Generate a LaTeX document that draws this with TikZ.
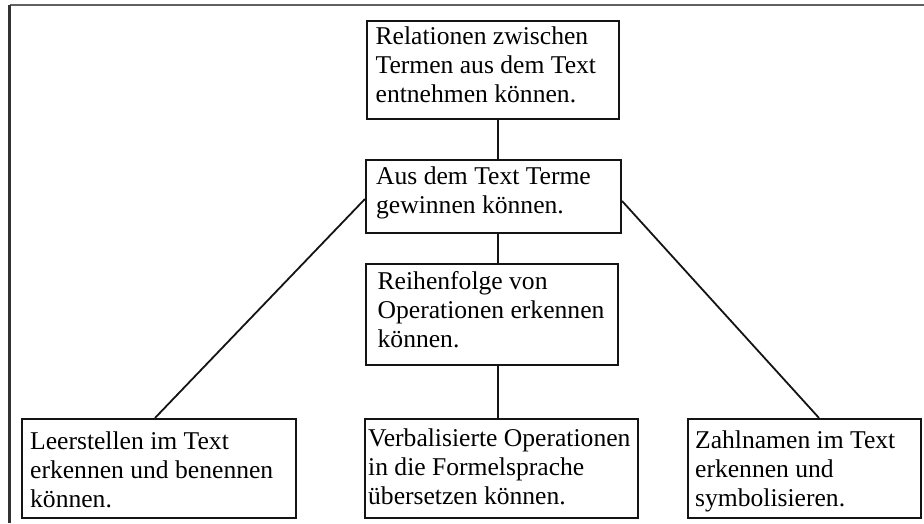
\documentclass[tikz,border=0pt]{standalone}
\usepackage{fontspec}
\setmainfont{Liberation Serif}
\begin{document}
\begin{tikzpicture}[x=1pt,y=-1pt,
  box/.style={draw=black!92,line width=2.1pt,inner sep=0pt,minimum width=#1},
  txt/.style={inner sep=0pt,anchor=north west,align=left,text=black,
    font={\fontsize{25.6}{28.8}\selectfont}},
  conn/.style={draw=black!92,line width=1.8pt},
  frame/.style={line width=2.2pt}]
\useasboundingbox (0,0) rectangle (924,523);
\draw[frame,draw=black!62] (9.5,5) -- (924,5);
\draw[frame,draw=black!80] (9.5,5) -- (9.5,523);
\coordinate (axis) at (498,0);
% boxes
\node[box=252pt,minimum height=98pt] (t) at (493,70) {};
\node[box=255pt,minimum height=73pt] (m) at (493.5,196.5) {};
\node[box=252pt,minimum height=101pt] (r) at (492,314.5) {};
\node[box=273pt,minimum height=99pt] (bm) at (501.5,468.5) {};
\node[box=274pt,minimum height=99pt] (bl) at (159,468.5) {};
\node[box=233pt,minimum height=99pt] (br) at (804.5,468.5) {};
% texts
\node[txt] (tt) at ([xshift=9.5pt,yshift=-6.6pt]t.north west)
  {Relationen zwischen\\Termen aus dem Text\\entnehmen können.};
\node[txt] (mt) at ([xshift=11pt,yshift=-7.6pt]m.north west)
  {Aus dem Text Terme\\gewinnen können.};
\node[txt] (rt) at ([xshift=12.5pt,yshift=-8.6pt]r.north west)
  {Reihenfolge von\\Operationen erkennen\\können.};
\node[txt] (bmt) at ([xshift=4pt,yshift=-10.6pt]bm.north west)
  {Verbalisierte Operationen\\in die Formelsprache\\übersetzen können.};
\node[txt] (blt) at ([xshift=9pt,yshift=-14pt]bl.north west)
  {Leerstellen im Text\\erkennen und benennen\\können.};
\node[txt] (brt) at ([xshift=8pt,yshift=-12.6pt]br.north west)
  {Zahlnamen im Text\\erkennen und\\symbolisieren.};
% connectors
\draw[conn] (t.south -| axis) -- (m.north -| axis);
\draw[conn] (m.south -| axis) -- (r.north -| axis);
\draw[conn] (r.south -| axis) -- (bm.north -| axis);
\draw[conn] ([yshift=-2.5pt]m.west) -- ([xshift=-4pt]bl.north);
\draw[conn] ([yshift=-4.5pt]m.east) -- ([xshift=14.5pt]br.north);
\end{tikzpicture}
\end{document}
